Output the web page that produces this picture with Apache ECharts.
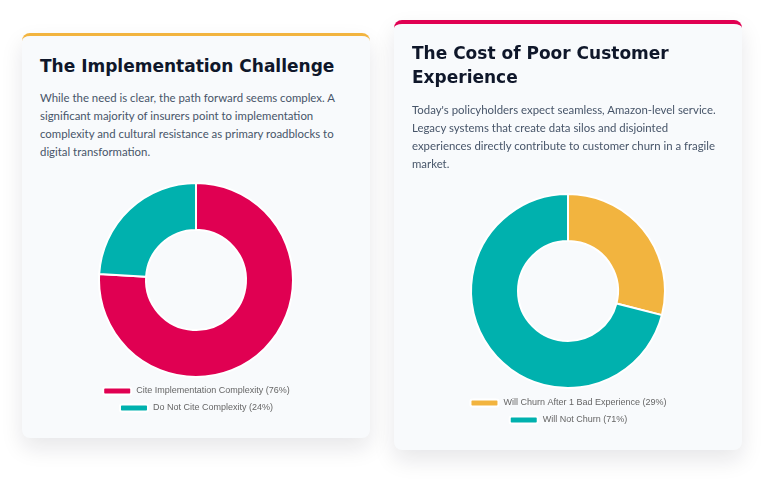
<!DOCTYPE html>
<html>
<head>
<meta charset="utf-8">
<script src="https://cdn.jsdelivr.net/npm/echarts@6/dist/echarts.min.js"></script>
<style>
    html, body { margin: 0; padding: 0; background: #fff; width: 772px; height: 485px; overflow: hidden; }
    .card {
        position: absolute;
        width: 348px;
        background: #f8fafc;
        border-radius: 8px;
        box-shadow: 0 10px 22px rgba(15, 23, 42, 0.10);
        box-sizing: border-box;
    }
    .card h2 {
        position: absolute;
        left: 18px;
        margin: 0;
        font-family: "DejaVu Sans", sans-serif;
        font-weight: bold;
        font-size: 17px;
        line-height: 24px;
        color: #0f172a;
        white-space: nowrap;
    }
    .card p {
        position: absolute;
        left: 18px;
        margin: 0;
        font-family: "Lato", sans-serif;
        font-size: 11.4px;
        line-height: 18px;
        color: #475569;
        white-space: nowrap;
    }
    .chart { position: absolute; left: 0; width: 348px; height: 250px; }
</style>
</head>
<body>
<div class="card" id="card-left" style="left:22px; top:33px; height:405px; border-top:3px solid #f2b43f;">
    <h2 style="top:18px;">The Implementation Challenge</h2>
    <p style="top:53px;">While the need is clear, the path forward seems complex. A<br>significant majority of insurers point to implementation<br>complexity and cultural resistance as primary roadblocks to<br>digital transformation.</p>
    <div class="chart" id="chart-left" style="top:139px;"></div>
</div>
<div class="card" id="card-right" style="left:394px; top:20px; height:430px; border-top:4px solid #e00052;">
    <h2 style="top:17px;">The Cost of Poor Customer<br>Experience</h2>
    <p style="top:77px;">Today's policyholders expect seamless, Amazon-level service.<br>Legacy systems that create data silos and disjointed<br>experiences directly contribute to customer churn in a fragile<br>market.</p>
    <div class="chart" id="chart-right" style="top:161px;"></div>
</div>
<script>
(function() {
    // 左图数据
    var implNames = ['Cite Implementation Complexity (76%)', 'Do Not Cite Complexity (24%)'];
    var implValues = [76, 24];
    var implColors = ['#e00052', '#00b1ae'];

    // 右图数据
    var churnNames = ['Will Churn After 1 Bad Experience (29%)', 'Will Not Churn (71%)'];
    var churnValues = [29, 71];
    var churnColors = ['#f2b43f', '#00b1ae'];

    /**
     * 生成环形图
     */
    function donut(id, names, values, colors, centerY, legendTops) {
        var chart = echarts.init(document.getElementById(id));
        var data = names.map(function(n, i) {
            return { name: n, value: values[i], itemStyle: { color: colors[i] } };
        });
        var legends = names.map(function(n, i) {
            return {
                data: [n],
                left: 'center',
                top: legendTops[i],
                padding: 0,
                itemWidth: 28,
                itemHeight: 7,
                itemGap: 5,
                selectedMode: false,
                textStyle: { fontFamily: '"Liberation Sans", Arial, sans-serif', fontSize: 9, color: '#666', lineHeight: 12 }
            };
        });
        chart.setOption({
            animation: false,
            legend: legends,
            series: [{
                type: 'pie',
                radius: [50, 97],
                center: ['50%', centerY],
                startAngle: 90,
                clockwise: true,
                label: { show: false },
                labelLine: { show: false },
                itemStyle: { borderColor: '#ffffff', borderWidth: 2 },
                data: data
            }]
        });
    }

    donut('chart-left', implNames, implValues, implColors, 105, [210, 227]);
    donut('chart-right', churnNames, churnValues, churnColors, 106, [212, 229]);
})();
</script>
</body>
</html>
